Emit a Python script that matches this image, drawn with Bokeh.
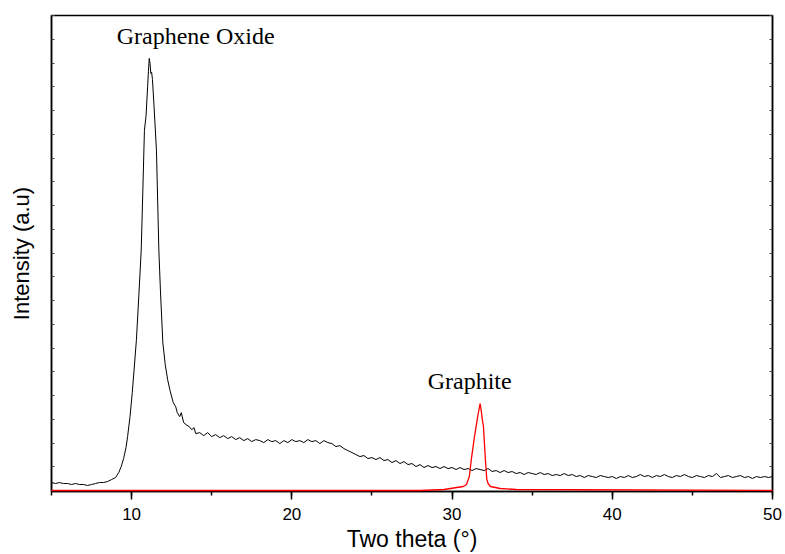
from bokeh.plotting import figure
from bokeh.models import Range1d, SingleIntervalTicker, LinearAxis, Label, CustomJSTickFormatter
from bokeh.embed import file_html
from bokeh.resources import INLINE

# Graphene oxide XRD pattern (two theta in degrees, intensity in a.u.)
go_theta = [5.00, 5.25, 5.50, 5.75, 6.00, 6.25, 6.50, 6.75, 7.00, 7.25, 7.50, 7.75, 8.00, 8.25, 8.50, 8.75, 9.00,
            9.20, 9.35, 9.50, 9.65, 9.75, 9.90, 10.04, 10.15, 10.30, 10.45, 10.60, 10.70, 10.80, 10.90, 11.00, 11.05,
            11.10, 11.15, 11.20, 11.25, 11.30, 11.40, 11.55, 11.70, 11.80, 11.95, 12.10, 12.25, 12.40, 12.60, 12.75,
            12.85, 13.00, 13.10, 13.25, 13.40, 13.60, 13.75, 13.90, 14.00, 14.25, 14.50, 14.75, 15.00,
            15.25, 15.50, 15.75, 16.00, 16.25, 16.50, 16.75, 17.00, 17.25, 17.50, 17.75, 18.00, 18.25, 18.50, 18.75,
            19.00, 19.25, 19.50, 19.75, 20.00, 20.25, 20.50, 20.75, 21.00, 21.25, 21.50, 21.75, 22.00, 22.25, 22.50,
            22.75, 23.00, 23.25, 23.50, 23.75, 24.00, 24.25, 24.50, 24.75, 25.00, 25.25, 25.50, 25.75, 26.00, 26.25,
            26.50, 26.75, 27.00, 27.25, 27.50, 27.75, 28.00, 28.25, 28.50, 28.75, 29.00, 29.25, 29.50, 29.75, 30.00,
            30.25, 30.50, 30.75, 31.00, 31.25, 31.50, 31.75, 32.00, 32.25, 32.50, 32.75, 33.00, 33.25, 33.50, 33.75,
            34.00, 34.25, 34.50, 34.75, 35.00, 35.25, 35.50, 35.75, 36.00, 36.25, 36.50, 36.75, 37.00, 37.25, 37.50,
            37.75, 38.00, 38.25, 38.50, 38.75, 39.00, 39.25, 39.50, 39.75, 40.00, 40.25, 40.50, 40.75, 41.00, 41.25,
            41.50, 41.75, 42.00, 42.25, 42.50, 42.75, 43.00, 43.25, 43.50, 43.75, 44.00, 44.25, 44.50, 44.75, 45.00,
            45.25, 45.50, 45.75, 46.00, 46.25, 46.50, 46.75, 47.00, 47.25, 47.50, 47.75, 48.00, 48.25, 48.50, 48.75,
            49.00, 49.25, 49.50, 49.75, 50.00]
go_intensity = [8, 7, 8, 7, 7, 6, 7, 6, 6, 5, 6, 7, 8, 8, 9, 11, 13,
                18, 24, 32, 43, 54, 74, 98, 120, 151, 195, 241, 300, 361, 375, 405, 420,
                433, 428, 418, 419, 412, 385, 341, 241, 200, 148, 126, 111, 100, 88, 84,
                78, 74, 78, 68, 66, 64, 61, 63, 57, 58, 55, 58, 54,
                56, 53, 55, 52, 54, 51, 53, 50, 52, 49, 51, 50, 48, 51, 49,
                50, 47, 50, 48, 51, 49, 50, 48, 51, 49, 50, 47, 50, 48, 47,
                44, 45, 42, 40, 38, 36, 34, 35, 32, 33, 31, 33, 30, 31, 28,
                30, 27, 29, 26, 27, 24, 26, 23, 25, 23, 24, 22, 24, 22, 23,
                21, 23, 21, 22, 20, 22, 21, 20, 22, 19, 20, 18, 20, 18, 19,
                17, 18, 16, 18, 17, 16, 18, 16, 17, 15, 16, 15, 17, 15, 16,
                14, 15, 13, 15, 14, 13, 15, 14, 13, 14, 12, 14, 13, 15, 13,
                14, 16, 14, 15, 13, 15, 14, 16, 14, 13, 15, 14, 16, 14, 13,
                15, 14, 13, 15, 14, 17, 13, 14, 15, 13, 14, 15, 13, 14, 12,
                14, 13, 14, 13, 14]

# Graphite XRD pattern
gr_theta = [5.0, 28.0, 29.5, 30.3, 30.7, 30.9, 31.08, 31.2, 31.4, 31.5, 31.62, 31.75, 31.82, 31.9, 31.96, 32.08,
            32.17, 32.25, 32.4, 32.7, 33.0, 34.0, 50.0]
gr_intensity = [0, 0, 1, 3, 4, 6, 14, 31, 54, 64, 76, 87, 80, 70, 64, 31,
                11, 7, 4, 3, 2, 1, 0]

x_ticks_interval = 10
annotations = ["Graphene Oxide", "Graphite"]

p = figure(width=785, height=554, output_backend="svg", toolbar_location=None,
           x_range=Range1d(5, 50), y_range=Range1d(-1, 476),
           min_border_left=51, min_border_right=13, min_border_top=15, min_border_bottom=63,
           y_axis_location="left")

p.line(go_theta, go_intensity, line_color="black", line_width=1)
p.line(gr_theta, gr_intensity, line_color="#ff0000", line_width=1.3, level="overlay")

p.grid.visible = False
p.outline_line_color = "black"
p.outline_line_width = 1.5
p.background_fill_color = "white"
p.border_fill_color = "white"

xa = p.xaxis[0]
xa.ticker = SingleIntervalTicker(interval=x_ticks_interval, num_minor_ticks=2)
xa.axis_label = "Two theta (°)"
xa.axis_label_text_font = "Liberation Sans"
xa.axis_label_text_font_size = "23px"
xa.axis_label_text_font_style = "normal"
xa.axis_label_text_color = "black"
xa.axis_label_standoff = 3
xa.major_label_text_font = "Liberation Sans"
xa.major_label_text_font_size = "17px"
xa.major_label_text_color = "black"
xa.major_label_standoff = 8
xa.major_tick_in = 0
xa.major_tick_out = 8
xa.minor_tick_in = 0
xa.minor_tick_out = 4
xa.axis_line_width = 1.5
xa.axis_line_color = "black"
xa.major_tick_line_width = 1.5
xa.minor_tick_line_width = 1.5
xa.major_tick_line_color = "black"
xa.minor_tick_line_color = "black"

blank = CustomJSTickFormatter(code="return '';")

ya = p.yaxis[0]
ya.ticker = SingleIntervalTicker(interval=23.8, num_minor_ticks=0)
ya.formatter = blank
ya.axis_label = "Intensity (a.u)"
ya.axis_label_text_font = "Liberation Sans"
ya.axis_label_text_font_size = "22px"
ya.axis_label_text_font_style = "normal"
ya.axis_label_text_color = "black"
ya.axis_label_standoff = 18
ya.major_label_standoff = 0
ya.major_tick_in = 3
ya.major_tick_out = 0
ya.major_tick_line_color = "#444444"
ya.axis_line_width = 1.5
ya.axis_line_color = "black"

ra = LinearAxis(ticker=SingleIntervalTicker(interval=23.8, num_minor_ticks=0), formatter=blank,
                major_tick_in=3, major_tick_out=0, major_label_standoff=0,
                axis_line_width=1.5, axis_line_color="black", major_tick_line_color="#444444")
p.add_layout(ra, "right")

p.add_layout(Label(x=14.0, y=455, text=annotations[0], text_align="center", text_baseline="alphabetic",
                   text_font="Liberation Serif", text_font_size="24px", text_color="black"))
p.add_layout(Label(x=31.1, y=110, text=annotations[1], text_align="center", text_baseline="alphabetic",
                   text_font="Liberation Serif", text_font_size="24px", text_color="black"))

open("out.html", "w").write(file_html(p, INLINE))
